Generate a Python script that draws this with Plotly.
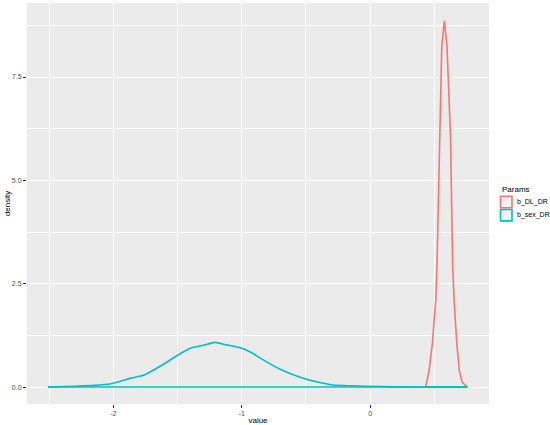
import plotly.graph_objects as go

# ---- data ----
sex_x = [-2.51, -2.30, -2.15, -2.02, -1.87, -1.76, -1.61, -1.50, -1.40, -1.30, -1.21,
         -1.12, -1.01, -0.93, -0.83, -0.70, -0.54, -0.41, -0.29, -0.15, -0.05, 0.20, 0.50, 0.757]
sex_y = [0.00, 0.02, 0.04, 0.08, 0.21, 0.29, 0.55, 0.77, 0.94, 1.01, 1.08,
         1.02, 0.95, 0.84, 0.65, 0.43, 0.23, 0.12, 0.05, 0.03, 0.02, 0.005, 0.001, 0.00]

dl_x = [0.433, 0.459, 0.485, 0.511, 0.521, 0.545, 0.558, 0.578, 0.599, 0.626,
        0.643, 0.654, 0.675, 0.695, 0.716, 0.757]
dl_y = [0.00, 0.40, 1.06, 2.10, 2.95, 6.09, 8.23, 8.86, 8.23, 6.09,
        2.95, 2.10, 1.06, 0.40, 0.12, 0.00]

series_names = ["b_DL_DR", "b_sex_DR"]
series_colors = ["#F8766D", "#00BFC4"]
legend_title = "Params"

x_tickvals = [-2, -1, 0]
x_ticktext = ["-2", "-1", "0"]
y_tickvals = [0, 2.5, 5.0, 7.5]
y_ticktext = ["0.0", "2.5", "5.0", "7.5"]

W, H = 550, 425
ML, MR, MT, MB = 27, 61, 3, 21
PW, PH = W - ML - MR, H - MT - MB
FONT = "Liberation Sans, Arial"


def px2paper(px, py):
    return (px - ML) / PW, (H - MB - py) / PH


fig = go.Figure()
for (xs, ys), name, col, shape in zip([(dl_x, dl_y), (sex_x, sex_y)], series_names,
                                      series_colors, ["linear", "spline"]):
    # density outline: upper curve ...
    fig.add_trace(go.Scatter(x=xs, y=ys, mode="lines", name=name,
                             line=dict(color=col, width=1.6, shape=shape, smoothing=0.5),
                             showlegend=False))
    # ... and its baseline
    fig.add_trace(go.Scatter(x=[xs[0], xs[-1]], y=[0, 0], mode="lines", name=name,
                             line=dict(color=col, width=1.6), showlegend=False))

# ---- legend drawn in the right margin (ggplot style keys) ----
shapes, annots = [], []
tx, ty = px2paper(500, 189)
annots.append(dict(x=tx, y=ty, xref="paper", yref="paper", text=legend_title, showarrow=False,
                   xanchor="left", yanchor="middle", font=dict(family=FONT, size=8, color="black")))
for i, (name, col) in enumerate(zip(series_names, series_colors)):
    cy = 202 + i * 13.2
    x0, y0 = px2paper(500.5, cy + 5.7)
    x1, y1 = px2paper(512, cy - 5.7)
    shapes.append(dict(type="rect", xref="paper", yref="paper", x0=x0, y0=y0, x1=x1, y1=y1,
                       fillcolor="#F2F2F2", line=dict(color=col, width=1.6)))
    lx, ly = px2paper(515, cy)
    annots.append(dict(x=lx, y=ly, xref="paper", yref="paper", text=name, showarrow=False,
                       xanchor="left", yanchor="middle",
                       font=dict(family=FONT, size=7, color="black")))

axis_common = dict(showline=False, zeroline=False, gridcolor="white", gridwidth=1.1,
                   ticks="outside", ticklen=3, tickwidth=1, tickcolor="#333333", automargin=False,
                   tickfont=dict(family=FONT, size=7, color="#4D4D4D"))

fig.update_layout(
    width=W, height=H,
    margin=dict(l=ML, r=MR, t=MT, b=MB, autoexpand=False),
    paper_bgcolor="white", plot_bgcolor="#EBEBEB",
    showlegend=False,
    shapes=shapes, annotations=annots,
    xaxis=dict(range=[-2.673, 0.926], tickvals=x_tickvals, ticktext=x_ticktext,
               title=dict(text="value", standoff=0,
                          font=dict(family=FONT, size=8, color="black")),
               minor=dict(tick0=-2.5, dtick=1, showgrid=True, gridcolor="white",
                          gridwidth=0.5, ticklen=0),
               **axis_common),
    yaxis=dict(range=[-0.41, 9.29], tickvals=y_tickvals, ticktext=y_ticktext,
               title=dict(text="density", standoff=0,
                          font=dict(family=FONT, size=8, color="black")),
               minor=dict(tick0=1.25, dtick=2.5, showgrid=True, gridcolor="white",
                          gridwidth=0.5, ticklen=0),
               **axis_common),
)

fig.write_html("out.html", config={"displayModeBar": False},
               post_script="document.body.style.margin='0';document.body.style.overflow='hidden';")
